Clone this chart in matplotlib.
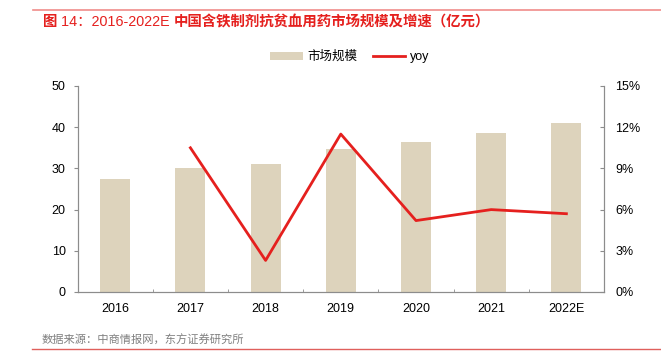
import matplotlib
matplotlib.use("Agg")
import matplotlib.pyplot as plt
from matplotlib.ticker import FuncFormatter, MultipleLocator
from matplotlib.lines import Line2D
from matplotlib.patches import Patch

plt.rcParams['font.family'] = ['Liberation Sans', 'Noto Sans CJK SC', 'DejaVu Sans']

years = ['2016', '2017', '2018', '2019', '2020', '2021', '2022E']
market = [27.5, 30.2, 31.1, 34.6, 36.5, 38.6, 40.9]
yoy_years = ['2017', '2018', '2019', '2020', '2021', '2022E']
yoy = [10.5, 2.3, 11.5, 5.2, 6.0, 5.7]

W, H = 661, 358
fig = plt.figure(figsize=(W / 100, H / 100), dpi=100)
ax = fig.add_axes([77.6 / W, 1 - 292 / H, (604 - 77.6) / W, (292 - 86) / H])
ax2 = ax.twinx()

x = list(range(len(years)))
ax.bar(x, market, width=0.4, color='#DDD3BC', zorder=1)
xi = [years.index(y) for y in yoy_years]
ax2.plot(xi, yoy, color='#E5201E', lw=2, zorder=3)

ax.set_xlim(-0.5, len(years) - 0.5)
ax.set_ylim(0, 50)
ax.set_yticks(range(0, 51, 10))
ax2.set_ylim(0, 15)
ax2.set_yticks(range(0, 16, 3))
ax2.yaxis.set_major_formatter(FuncFormatter(lambda v, p: f'{int(v)}%'))
ax.set_xticks(x)
ax.set_xticklabels(years)
ax.xaxis.set_minor_locator(MultipleLocator(1, offset=0.5))

spine_c = '#8C8C8C'
for a in (ax, ax2):
    a.spines['top'].set_visible(False)
    for s in ('left', 'right', 'bottom'):
        a.spines[s].set_color(spine_c)
        a.spines[s].set_linewidth(0.8)
ax.tick_params(axis='y', direction='out', length=3, color=spine_c, labelsize=9, pad=5.5)
ax.tick_params(axis='x', which='major', length=0, labelsize=9, pad=8)
ax.tick_params(axis='x', which='minor', direction='in', length=2.5, color=spine_c)
ax2.tick_params(axis='y', direction='in', length=3, color=spine_c, labelsize=9, pad=8)
ax.set_zorder(ax2.get_zorder() - 1)
ax2.patch.set_visible(False)

handles = [Patch(facecolor='#DDD3BC', edgecolor='none'),
           Line2D([0], [0], color='#E5201E', lw=2)]
fig.legend(handles, ['市场规模', 'yoy'], loc='center', bbox_to_anchor=(350 / W, 1 - 57 / H),
           ncol=2, frameon=False, fontsize=9, handlelength=2.6, handleheight=0.6,
           columnspacing=1.2, handletextpad=0.4)

# title, mixed weights
red = '#E5201E'
cjk = ['Noto Sans CJK SC', 'DejaVu Sans']
pieces = [('图 ', cjk, 'bold'),
          ('14：2016-2022E ', ['Liberation Sans', 'Noto Sans CJK SC'], 'normal'),
          ('中国含铁制剂抗贫血用药市场规模及增速（亿元）', cjk, 'bold')]
renderer = fig.canvas.get_renderer()
xpos = 43
for txt, fam, wt in pieces:
    t = fig.text(xpos / W, 1 - 22 / H, txt, color=red, fontsize=10.4, fontweight=wt,
                 va='center', ha='left', family=fam)
    bb = t.get_window_extent(renderer=renderer)
    xpos += bb.width

fig.add_artist(Line2D([33 / W, 1], [1 - 10 / H, 1 - 10 / H], color='#F08C8A', lw=1.2))
fig.text(42 / W, 1 - 340 / H, '数据来源：中商情报网，东方证券研究所', color='#808080',
         fontsize=8.1, va='center', ha='left', family=cjk)
fig.add_artist(Line2D([32 / W, 1], [1 - 349 / H, 1 - 349 / H], color='#E0605C', lw=1.0))

fig.savefig('out.png', dpi=100)
